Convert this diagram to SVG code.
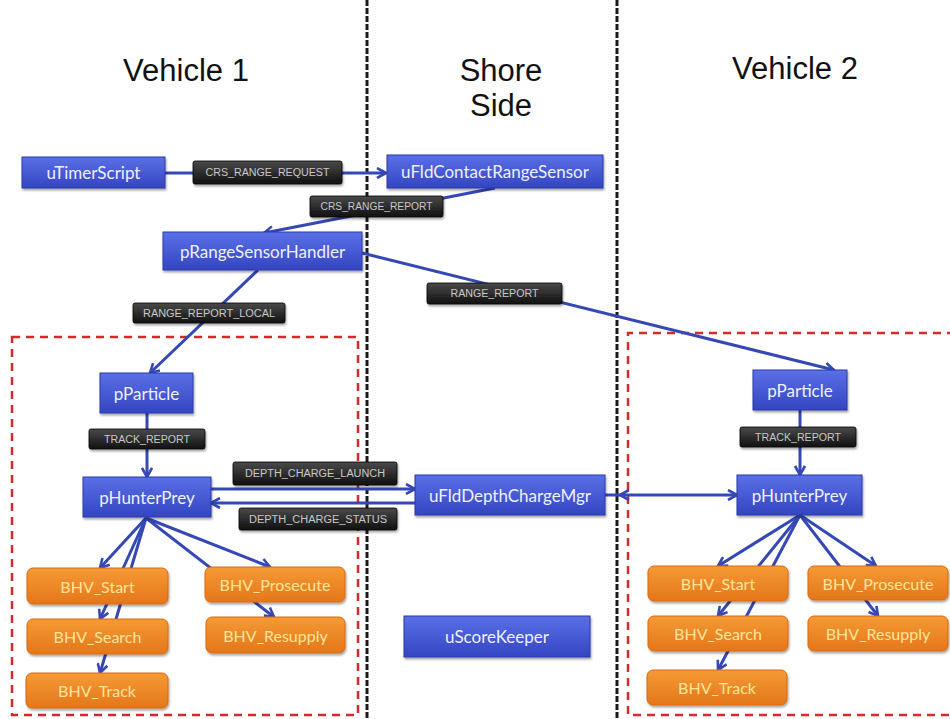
<svg xmlns="http://www.w3.org/2000/svg" width="950" height="719" viewBox="0 0 950 719">
  <defs>
    <linearGradient id="gBlue" x1="0" y1="0" x2="0" y2="1">
      <stop offset="0" stop-color="#5a70e6"/>
      <stop offset="1" stop-color="#3445c2"/>
    </linearGradient>
    <linearGradient id="gOrange" x1="0" y1="0" x2="0" y2="1">
      <stop offset="0" stop-color="#f59a35"/>
      <stop offset="1" stop-color="#e4761a"/>
    </linearGradient>
    <linearGradient id="gLabel" x1="0" y1="0" x2="0" y2="1">
      <stop offset="0" stop-color="#4a4a4a"/>
      <stop offset="1" stop-color="#101010"/>
    </linearGradient>
    <marker id="arr" viewBox="0 0 12 12" refX="10" refY="6" markerWidth="12" markerHeight="12" markerUnits="userSpaceOnUse" orient="auto-start-reverse">
      <path d="M1,1 L10,6 L1,11" fill="none" stroke="#3548b5" stroke-width="2.6" stroke-linejoin="miter"/>
    </marker>
    <filter id="sh" x="-10%" y="-10%" width="125%" height="140%">
      <feDropShadow dx="1" dy="2" stdDeviation="1.2" flood-color="#000" flood-opacity="0.35"/>
    </filter>
  </defs>
  <style>
    .title { font-family: "Liberation Sans", Arial, sans-serif; font-size: 31px; fill: #111; text-anchor: middle; }
    .blue rect { fill: url(#gBlue); stroke: #2b3aa6; stroke-width: 1; filter: url(#sh); }
    .blue text { font-family: Lato, "Open Sans", sans-serif; font-size: 17px; fill: #eef0ff; text-anchor: middle; dominant-baseline: central; }
    .orange rect { fill: url(#gOrange); stroke: #d86a10; stroke-width: 1; filter: url(#sh); }
    .orange text { font-family: Lato, "Open Sans", sans-serif; font-size: 16px; fill: #ffe59a; text-anchor: middle; dominant-baseline: central; }
    .lbl rect { fill: url(#gLabel); stroke: #000; stroke-width: 0.8; filter: url(#sh); }
    .lbl text { font-family: "Liberation Sans", Arial, sans-serif; font-size: 10px; fill: #c8c8c8; text-anchor: middle; dominant-baseline: central; }
    .edge { fill: none; stroke: #3548b5; stroke-width: 3; }
    .arrow { marker-end: url(#arr); }
    .side { fill: none; stroke: #1a1a1a; stroke-width: 3; stroke-dasharray: 6 2; }
    .zone { fill: none; stroke: #d42a2a; stroke-width: 2.5; stroke-dasharray: 8 6; }
  </style>

  <rect width="950" height="719" fill="#fff"/>

  <!-- column titles -->
  <text class="title" x="186" y="81">Vehicle 1</text>
  <text class="title" x="501" y="81">Shore</text>
  <text class="title" x="501" y="116">Side</text>
  <text class="title" x="795" y="79">Vehicle 2</text>

  <!-- dividers between vehicles and shore side -->
  <line class="side" x1="367" y1="0" x2="367" y2="719"/>
  <line class="side" x1="617" y1="0" x2="617" y2="719"/>

  <!-- vehicle boundaries -->
  <rect class="zone" x="12" y="337" width="346" height="378"/>
  <path class="zone" d="M955,333 H628 V715 H955"/>

  <!-- connectors -->
  <g id="connectors">
    <line class="edge arrow" x1="165" y1="173" x2="386" y2="173"/>
    <line class="edge arrow" x1="495" y1="188" x2="264" y2="233"/>
    <line class="edge arrow" x1="362" y1="253" x2="834" y2="370"/>
    <line class="edge arrow" x1="258" y1="270" x2="150" y2="373"/>
    <line class="edge arrow" x1="147" y1="413" x2="147" y2="477"/>
    <line class="edge arrow" x1="211" y1="489" x2="415" y2="489"/>
    <line class="edge arrow" x1="415" y1="503" x2="211" y2="503"/>
    <line class="edge arrow" x1="620" y1="495" x2="737" y2="495" style="marker-start:url(#arr)"/>
    <line class="edge" x1="605" y1="495" x2="622" y2="495"/>
    <line class="edge arrow" x1="800" y1="410" x2="800" y2="475"/>
    <!-- vehicle 1 behaviours -->
    <line class="edge arrow" x1="146" y1="518" x2="100" y2="568"/>
    <line class="edge arrow" x1="146" y1="518" x2="100" y2="619"/>
    <line class="edge arrow" x1="146" y1="518" x2="100" y2="673"/>
    <line class="edge arrow" x1="146" y1="518" x2="270" y2="567"/>
    <line class="edge arrow" x1="146" y1="518" x2="274" y2="617"/>
    <!-- vehicle 2 behaviours -->
    <line class="edge arrow" x1="800" y1="515" x2="718" y2="566"/>
    <line class="edge arrow" x1="800" y1="515" x2="718" y2="616"/>
    <line class="edge arrow" x1="800" y1="515" x2="718" y2="670"/>
    <line class="edge arrow" x1="800" y1="515" x2="876" y2="566"/>
    <line class="edge arrow" x1="800" y1="515" x2="878" y2="616"/>
  </g>

  <!-- message labels -->
  <g id="lbl-crs-request" class="lbl"><rect x="193" y="161" width="149" height="23" rx="2"/><text x="267.5" y="172.5" textLength="124" lengthAdjust="spacingAndGlyphs">CRS_RANGE_REQUEST</text></g>
  <g id="lbl-crs-report" class="lbl"><rect x="310" y="196" width="133" height="21" rx="2"/><text x="376.5" y="206.5" textLength="112" lengthAdjust="spacingAndGlyphs">CRS_RANGE_REPORT</text></g>
  <g id="lbl-range-report" class="lbl"><rect x="427" y="283" width="135" height="21" rx="2"/><text x="494.5" y="293.5" textLength="88" lengthAdjust="spacingAndGlyphs">RANGE_REPORT</text></g>
  <g id="lbl-range-report-local" class="lbl"><rect x="133" y="303" width="152" height="20" rx="2"/><text x="209" y="313" textLength="132" lengthAdjust="spacingAndGlyphs">RANGE_REPORT_LOCAL</text></g>
  <g id="lbl-track-report-1" class="lbl"><rect x="89" y="429" width="116" height="20" rx="2"/><text x="147" y="439" textLength="86" lengthAdjust="spacingAndGlyphs">TRACK_REPORT</text></g>
  <g id="lbl-track-report-2" class="lbl"><rect x="740" y="427" width="116" height="20" rx="2"/><text x="798" y="437" textLength="86" lengthAdjust="spacingAndGlyphs">TRACK_REPORT</text></g>
  <g id="lbl-dc-launch" class="lbl"><rect x="233" y="462" width="164" height="23" rx="2"/><text x="315" y="473.5" textLength="140" lengthAdjust="spacingAndGlyphs">DEPTH_CHARGE_LAUNCH</text></g>
  <g id="lbl-dc-status" class="lbl"><rect x="239" y="508" width="158" height="22" rx="2"/><text x="318" y="519" textLength="138" lengthAdjust="spacingAndGlyphs">DEPTH_CHARGE_STATUS</text></g>

  <!-- process nodes -->
  <g id="uTimerScript" class="blue"><rect x="22" y="157" width="143" height="31"/><text x="93.5" y="172.5">uTimerScript</text></g>
  <g id="uFldContactRangeSensor" class="blue"><rect x="387" y="155" width="216" height="33"/><text x="495" y="171.5">uFldContactRangeSensor</text></g>
  <g id="pRangeSensorHandler" class="blue"><rect x="163" y="232" width="199" height="38"/><text x="262.5" y="251">pRangeSensorHandler</text></g>
  <g id="pParticle1" class="blue"><rect x="100" y="373" width="93" height="40"/><text x="146.5" y="393">pParticle</text></g>
  <g id="pHunterPrey1" class="blue"><rect x="83" y="477" width="128" height="40"/><text x="147" y="497">pHunterPrey</text></g>
  <g id="uFldDepthChargeMgr" class="blue"><rect x="415" y="475" width="190" height="40"/><text x="510" y="495">uFldDepthChargeMgr</text></g>
  <g id="uScoreKeeper" class="blue"><rect x="404" y="616" width="186" height="41"/><text x="497" y="636.5">uScoreKeeper</text></g>
  <g id="pParticle2" class="blue"><rect x="753" y="370" width="94" height="40"/><text x="800" y="390">pParticle</text></g>
  <g id="pHunterPrey2" class="blue"><rect x="737" y="475" width="125" height="40"/><text x="799.5" y="495">pHunterPrey</text></g>

  <!-- behaviour nodes, vehicle 1 -->
  <g id="bhvStart1" class="orange"><rect x="27" y="568" width="141" height="36" rx="6"/><text x="97.5" y="586">BHV_Start</text></g>
  <g id="bhvSearch1" class="orange"><rect x="27" y="619" width="141" height="35" rx="6"/><text x="97.5" y="636.5">BHV_Search</text></g>
  <g id="bhvTrack1" class="orange"><rect x="26" y="673" width="142" height="35" rx="6"/><text x="97" y="690.5">BHV_Track</text></g>
  <g id="bhvProsecute1" class="orange"><rect x="205" y="567" width="140" height="35" rx="6"/><text x="275" y="584.5">BHV_Prosecute</text></g>
  <g id="bhvResupply1" class="orange"><rect x="206" y="617" width="139" height="36" rx="6"/><text x="275.5" y="635">BHV_Resupply</text></g>

  <!-- behaviour nodes, vehicle 2 -->
  <g id="bhvStart2" class="orange"><rect x="648" y="566" width="140" height="35" rx="6"/><text x="718" y="583.5">BHV_Start</text></g>
  <g id="bhvSearch2" class="orange"><rect x="648" y="616" width="140" height="35" rx="6"/><text x="718" y="633.5">BHV_Search</text></g>
  <g id="bhvTrack2" class="orange"><rect x="647" y="670" width="140" height="35" rx="6"/><text x="717" y="687.5">BHV_Track</text></g>
  <g id="bhvProsecute2" class="orange"><rect x="808" y="566" width="140" height="34" rx="6"/><text x="878" y="583">BHV_Prosecute</text></g>
  <g id="bhvResupply2" class="orange"><rect x="808" y="616" width="140" height="35" rx="6"/><text x="878" y="633.5">BHV_Resupply</text></g>
</svg>
